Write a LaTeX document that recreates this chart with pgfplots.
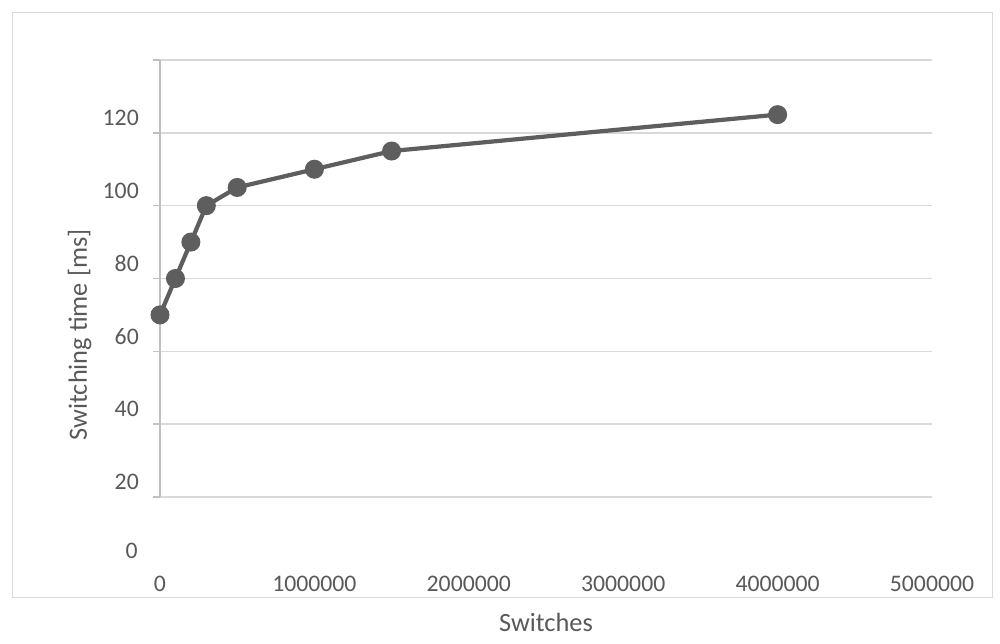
\documentclass[border=0pt]{standalone}
\usepackage{pgfplots}
\pgfplotsset{compat=1.18}
\usepackage{fontspec}
\setmainfont{Carlito}
\definecolor{txt}{HTML}{595959}
\definecolor{grd}{HTML}{D9D9D9}
\definecolor{axl}{HTML}{BFBFBF}
\definecolor{ser}{HTML}{5E5E5E}
\begin{document}
\begin{tikzpicture}
% 1 px of the 1000x644 frame = 0.02cm
\path[use as bounding box] (0,0) rectangle (20cm,12.88cm);
\draw[grd,line width=0.5pt] (0.24cm,0.94cm) rectangle (19.84cm,12.64cm);
\begin{axis}[at={(3.2cm,2.94cm)},anchor=south west,scale only axis,
  width=15.44cm,height=8.74cm,
  xmin=0,xmax=5000000,ymin=20,ymax=140,
  xtick={0,1000000,...,5000000},
  xticklabels={0,1000000,2000000,3000000,4000000,5000000},
  scaled x ticks=false,
  ytick={20,40,...,140},
  yticklabels={20,40,60,80,100,120,},
  ytick pos=left,
  axis line style={draw=none},
  ymajorgrids,grid style={grd,line width=0.8pt},
  xtick style={draw=none},
  ytick style={axl,line width=0.8pt},
  tick align=outside,major tick length=0.14cm,
  ticklabel style={font=\fontsize{13.5}{15}\selectfont,text=txt},
  yticklabel style={anchor=east,yshift=0.3cm,xshift=-0.16cm},
  xticklabel style={anchor=center,yshift=-1.6cm},
  xlabel={Switches},ylabel={Switching time [ms]},
  label style={font=\fontsize{15}{17}\selectfont,text=txt},
  xlabel style={at={(axis description cs:0.5,-0.286)},anchor=center},
  ylabel style={at={(axis description cs:-0.104,0.371)},anchor=center,rotate=0},
  clip=false]
\draw[axl,line width=0.8pt] (axis cs:0,20) -- (axis cs:0,140);
\addplot[ser,line width=2.4pt,mark=*,mark size=4.2pt,mark options={fill=ser,draw=ser}]
  coordinates {(0,70)(100000,80)(200000,90)(300000,100)(500000,105)(1000000,110)(1500000,115)(4000000,125)};
\end{axis}
\node[anchor=east,text=txt,font=\fontsize{13.5}{15}\selectfont,inner sep=0pt] at (2.76cm,1.86cm) {0};
\end{tikzpicture}
\end{document}
